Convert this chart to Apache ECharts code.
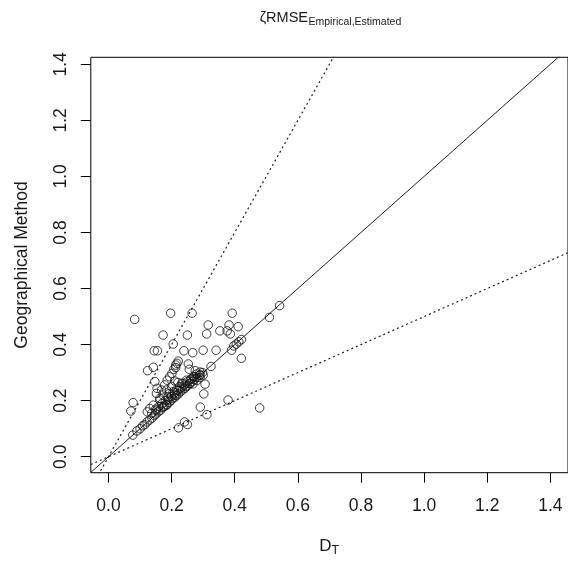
<!DOCTYPE html>
<html>
<head>
<meta charset="utf-8">
<script src="https://cdn.jsdelivr.net/npm/echarts@6/dist/echarts.min.js"></script>
<style>
  html, body { margin: 0; padding: 0; background: #fff; }
  #chart { width: 568px; height: 562px; }
</style>
</head>
<body>
<div id="chart"></div>
<script>
// D_T (x) against the geographical-method estimate (y), one point per unit
const dT = [
  0.083, 0.197, 0.265, 0.392, 0.542, 0.510, 0.316, 0.311, 0.250, 0.173,
  0.353, 0.376, 0.382, 0.411, 0.386, 0.205, 0.145, 0.155, 0.239, 0.267,
  0.300, 0.341, 0.390, 0.397, 0.405, 0.413, 0.421, 0.421, 0.221, 0.213,
  0.124, 0.142, 0.253, 0.256, 0.275, 0.325, 0.300, 0.290, 0.147, 0.154,
  0.306, 0.302, 0.379, 0.479, 0.291, 0.312, 0.241, 0.250, 0.222, 0.078,
  0.071,
  0.168, 0.178, 0.186, 0.194, 0.201, 0.207, 0.213, 0.217,
  0.184, 0.194, 0.205, 0.215, 0.200, 0.210, 0.189, 0.163, 0.152, 0.173,
  0.225, 0.232, 0.220, 0.210,
  0.131, 0.142, 0.152, 0.137, 0.123, 0.163, 0.173, 0.184,
  0.236, 0.247, 0.263, 0.273, 0.289, 0.258, 0.280, 0.268, 0.245,
  0.077, 0.090, 0.100, 0.108, 0.115, 0.122, 0.130, 0.138, 0.145, 0.150,
  0.158, 0.165, 0.172, 0.178, 0.185, 0.192, 0.198, 0.203, 0.210, 0.215,
  0.222, 0.228, 0.235, 0.242, 0.250, 0.258, 0.265, 0.272, 0.280, 0.290,
  0.298,
  0.150, 0.160, 0.170, 0.180, 0.190, 0.200, 0.210, 0.220, 0.230, 0.240,
  0.250, 0.260, 0.270, 0.280, 0.290
];
const geoMethod = [
  0.490, 0.512, 0.512, 0.512, 0.539, 0.497, 0.470, 0.438, 0.434, 0.434,
  0.449, 0.449, 0.470, 0.464, 0.438, 0.402, 0.378, 0.378, 0.378, 0.371,
  0.380, 0.380, 0.380, 0.395, 0.402, 0.410, 0.418, 0.351, 0.341, 0.327,
  0.307, 0.319, 0.331, 0.312, 0.307, 0.322, 0.291, 0.282, 0.268, 0.244,
  0.259, 0.224, 0.202, 0.174, 0.177, 0.150, 0.124, 0.115, 0.103, 0.193,
  0.163,
  0.238, 0.256, 0.273, 0.285, 0.297, 0.312, 0.318, 0.333,
  0.238, 0.226, 0.232, 0.238, 0.250, 0.220, 0.214, 0.208, 0.226, 0.220,
  0.250, 0.262, 0.265, 0.270,
  0.172, 0.184, 0.166, 0.155, 0.160, 0.202, 0.178, 0.184,
  0.262, 0.273, 0.279, 0.285, 0.291, 0.262, 0.272, 0.260, 0.250,
  0.077, 0.092, 0.100, 0.110, 0.114, 0.124, 0.131, 0.138, 0.147, 0.152,
  0.160, 0.166, 0.175, 0.180, 0.186, 0.194, 0.200, 0.207, 0.212, 0.218,
  0.224, 0.232, 0.238, 0.244, 0.252, 0.260, 0.268, 0.275, 0.283, 0.292,
  0.300,
  0.170, 0.180, 0.190, 0.200, 0.205, 0.215, 0.228, 0.236, 0.245, 0.255,
  0.268, 0.275, 0.285, 0.295, 0.302
];

// Axis ranges and tick labels
const xRange = [-0.056, 1.456];
const yRange = [-0.057, 1.425];
const tickValues = [0, 0.2, 0.4, 0.6, 0.8, 1.0, 1.2, 1.4];

// Reference lines through the origin: identity, and factor-of-two bounds
const refSolidSlopes = [1];
const refDottedSlopes = [2, 0.5];

const FONT = '"Liberation Sans", Arial, sans-serif';
const INK = '#1a1a1a';

const points = dT.map((x, i) => [x, geoMethod[i]]);
const refLine = (s) => [[xRange[0], s * xRange[0]], [xRange[1], s * xRange[1]]];

const lineSeries = [];
refSolidSlopes.forEach(s => lineSeries.push({
  type: 'line', data: refLine(s), showSymbol: false, silent: true, clip: true,
  lineStyle: { color: '#222', width: 1, type: 'solid' }, z: 1
}));
refDottedSlopes.forEach(s => lineSeries.push({
  type: 'line', data: refLine(s), showSymbol: false, silent: true, clip: true,
  lineStyle: { color: '#222', width: 1.2, type: [2, 3] }, z: 1
}));

const chart = echarts.init(document.getElementById('chart'), null, { renderer: 'canvas' });
chart.setOption({
  animation: false,
  backgroundColor: '#ffffff',
  grid: {
    left: 90.8, top: 57.3, width: 478.7, height: 415.4,
    show: true, borderColor: '#000', borderWidth: 1, backgroundColor: 'transparent'
  },
  xAxis: {
    type: 'value', min: xRange[0], max: xRange[1],
    axisLine: { show: false, onZero: false },
    axisTick: { show: true, inside: false, length: 10, customValues: tickValues, lineStyle: { color: '#000', width: 1 } },
    axisLabel: {
      customValues: tickValues, formatter: v => v.toFixed(1),
      fontFamily: FONT, fontSize: 17.5, color: INK, margin: 24
    },
    splitLine: { show: false }
  },
  yAxis: {
    type: 'value', min: yRange[0], max: yRange[1],
    axisLine: { show: false, onZero: false },
    axisTick: { show: true, inside: false, length: 10, customValues: tickValues, lineStyle: { color: '#000', width: 1 } },
    axisLabel: {
      customValues: tickValues, formatter: v => v.toFixed(1), rotate: 90,
      fontFamily: FONT, fontSize: 17.5, color: INK, margin: 21
    },
    splitLine: { show: false }
  },
  graphic: [
    { type: 'text', x: 308, y: 18, silent: true,
      style: { text: 'ζRMSE', font: '14.5px ' + FONT, fill: INK, align: 'right', verticalAlign: 'middle' } },
    { type: 'text', x: 308.5, y: 22.5, silent: true,
      style: { text: 'Empirical,Estimated', font: '10.5px ' + FONT, fill: INK, align: 'left', verticalAlign: 'middle' } },
    { type: 'text', x: 331.5, y: 546, silent: true,
      style: { text: 'D', font: '17px ' + FONT, fill: INK, align: 'right', verticalAlign: 'middle' } },
    { type: 'text', x: 331.5, y: 551, silent: true,
      style: { text: 'T', font: '12.5px ' + FONT, fill: INK, align: 'left', verticalAlign: 'middle' } },
    { type: 'text', x: 22, y: 265, rotation: Math.PI / 2, silent: true,
      style: { text: 'Geographical Method', font: '17.5px ' + FONT, fill: INK, align: 'center', verticalAlign: 'middle' } }
  ],
  series: lineSeries.concat([{
    type: 'scatter', data: points, symbol: 'circle', symbolSize: 8.5,
    itemStyle: { color: 'rgba(0,0,0,0)', borderColor: '#111', borderWidth: 1 },
    z: 2
  }])
});
</script>
</body>
</html>
